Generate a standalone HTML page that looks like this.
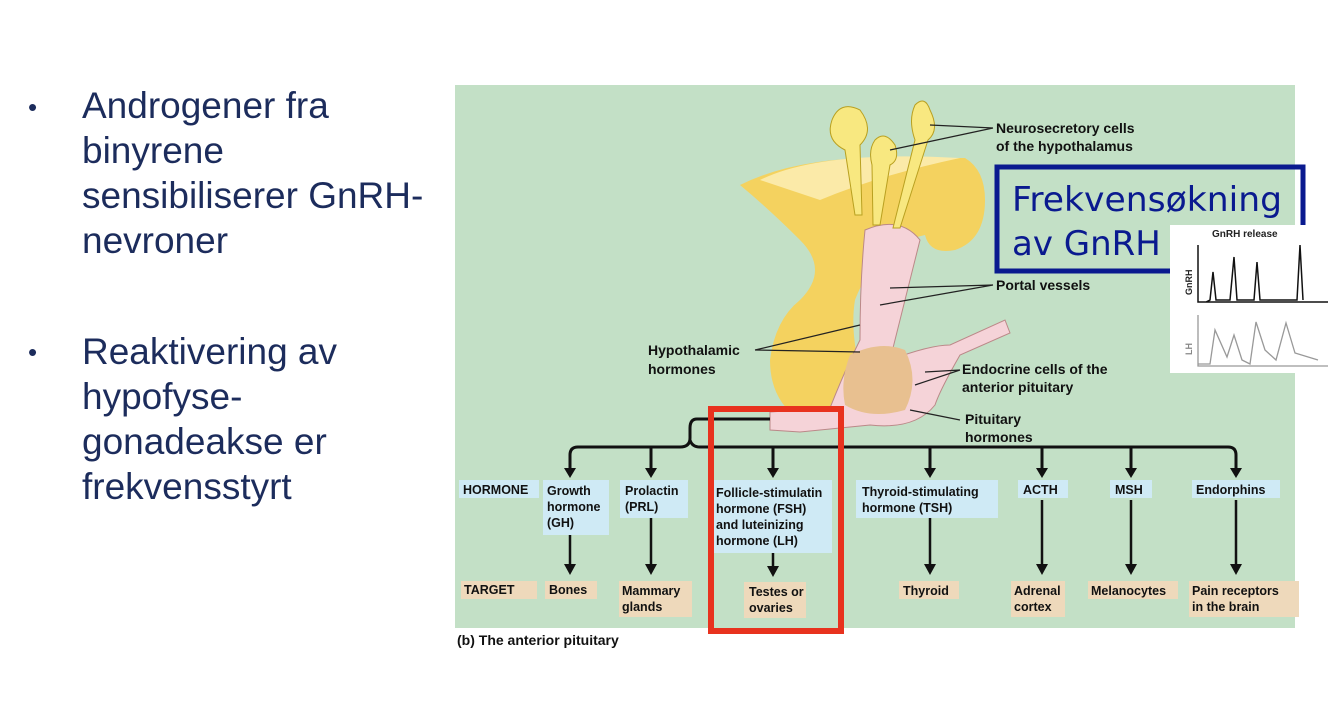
<!DOCTYPE html>
<html><head><meta charset="utf-8"><style>
body{margin:0;width:1334px;height:714px;background:#fff;overflow:hidden;position:relative;font-family:"Liberation Sans",sans-serif}
.b{position:absolute;left:82px;font-size:37px;line-height:45px;color:#1c2c5c}
.d{position:absolute;left:28px;font-size:26px;color:#1c2c5c}
</style></head><body>
<div class="d" style="top:92px">•</div>
<div class="b" style="top:83px">Androgener fra<br>binyrene<br>sensibiliserer GnRH-<br>nevroner</div>
<div class="d" style="top:337px">•</div>
<div class="b" style="top:329px">Reaktivering av<br>hypofyse-<br>gonadeakse er<br>frekvensstyrt</div>
<svg style="position:absolute;left:0;top:0" width="1334" height="714" font-family="Liberation Sans, sans-serif" font-weight="bold">
<rect x="455" y="85" width="840" height="543" fill="#c3e0c6"/>
<path d="M740 185 Q800 155 900 158 L965 158 Q985 170 985 200 Q985 240 955 250 Q930 255 925 235 L905 240 Q870 260 855 300 Q850 330 860 370 L890 420 Q860 430 800 420 Q770 400 770 360 Q775 320 800 300 Q830 270 800 240 Q770 210 740 185Z" fill="#f4d25f"/>
<path d="M760 180 Q820 150 960 158 Q880 175 820 200 Z" fill="#fbeaa8"/>
<path d="M865 230 Q900 215 920 240 L905 300 Q895 340 890 360 Q930 345 950 345 L1005 320 L1010 333 L960 355 Q940 390 935 405 Q915 430 870 425 L800 432 L770 430 L770 412 L830 408 Q845 370 860 340 Q860 280 865 230Z" fill="#f5d3d8" stroke="#b88" stroke-width="1"/>
<path d="M850 355 Q880 340 905 350 Q920 380 905 410 Q870 420 845 405 Q840 380 850 355Z" fill="#e8c090"/>
<g fill="#f8e880" stroke="#b9a020">
<path d="M832 120 Q840 100 860 110 Q875 130 860 145 L862 215 L855 215 L845 150 Q825 140 832 120Z"/>
<path d="M875 140 Q885 130 895 145 Q900 160 890 165 L880 225 L873 225 L872 165 Q868 150 875 140Z"/>
<path d="M915 105 Q925 95 930 110 Q940 130 928 140 L900 228 L893 228 L915 140 Q908 120 915 105Z"/>
</g>
<g stroke="#222" stroke-width="1.2" fill="none">
<path d="M993 128 L930 125 M993 128 L890 150"/>
<path d="M993 285 L890 288 M993 285 L880 305"/>
<path d="M755 350 L860 325 M755 350 L860 352"/>
<path d="M960 370 L925 372 M960 370 L915 385"/>
<path d="M960 420 L910 410"/>
</g>
<g font-size="14" fill="#111">
<text x="996" y="133">Neurosecretory cells</text><text x="996" y="151">of the hypothalamus</text>
<text x="996" y="290">Portal vessels</text>
<text x="648" y="355">Hypothalamic</text><text x="648" y="374">hormones</text>
<text x="962" y="374">Endocrine cells of the</text><text x="962" y="392">anterior pituitary</text>
<text x="965" y="424">Pituitary</text><text x="965" y="442">hormones</text>
</g>
<rect x="997" y="167" width="306" height="104" fill="none" stroke="#0a1a8f" stroke-width="5"/>
<g font-family="DejaVu Sans, sans-serif" font-weight="normal" font-size="34" fill="#0a1a8f">
<text x="1012" y="211" textLength="270" lengthAdjust="spacingAndGlyphs">Frekvensøkning</text><text x="1012" y="255">av GnRH</text></g>
<rect x="1170" y="225" width="156" height="148" fill="#fff"/>
<text x="1212" y="237" font-size="10" fill="#222">GnRH release</text>
<text x="1192" y="295" font-size="9" transform="rotate(-90 1192 295)" fill="#222">GnRH</text>
<text x="1192" y="355" font-size="9" transform="rotate(-90 1192 355)" fill="#888">LH</text>
<path d="M1198 245 V302 H1328 M1206 302 L1210 300 L1213 272 L1216 300 L1230 300 L1234 257 L1237 300 L1254 300 L1257 262 L1260 300 L1297 300 L1300 245 L1303 300" stroke="#111" stroke-width="1.5" fill="none"/>
<path d="M1198 315 V366 H1328 M1198 364 L1210 364 L1215 330 L1227 357 L1234 335 L1242 360 L1250 364 L1256 322 L1265 350 L1276 360 L1286 323 L1295 353 L1318 360" stroke="#999" stroke-width="1.3" fill="none"/>
<g stroke="#111" stroke-width="3" fill="none">
<path d="M770 419 H697 Q690 419 690 428 V438 Q690 447 680 447 H578 Q570 447 570 455 V470"/>
<path d="M690 440 Q692 447 700 447 H1228 Q1236 447 1236 455 V470"/>
<path d="M651 447 V470 M773 447 V470 M930 447 V470 M1042 447 V470 M1131 447 V470"/>
</g>
<g stroke="#111" stroke-width="2.5"><path d="M570 532 V565 M651 518 V565 M773 552 V568 M930 518 V565 M1042 500 V565 M1131 500 V565 M1236 500 V565"/></g>
<g fill="#111"><path d="M564 468 L570 478 L576 468Z M645 468 L651 478 L657 468Z M767 468 L773 478 L779 468Z M924 468 L930 478 L936 468Z M1036 468 L1042 478 L1048 468Z M1125 468 L1131 478 L1137 468Z M1230 468 L1236 478 L1242 468Z
M564 564 L570 575 L576 564Z M645 564 L651 575 L657 564Z M767 566 L773 577 L779 566Z M924 564 L930 575 L936 564Z M1036 564 L1042 575 L1048 564Z M1125 564 L1131 575 L1137 564Z M1230 564 L1236 575 L1242 564Z"/></g>
<g fill="#cfeaf5">
<rect x="459" y="480" width="80" height="18"/><rect x="543" y="480" width="66" height="55"/><rect x="620" y="480" width="68" height="38"/>
<rect x="712" y="480" width="120" height="73"/><rect x="856" y="480" width="142" height="38"/>
<rect x="1018" y="480" width="50" height="18"/><rect x="1110" y="480" width="42" height="18"/><rect x="1192" y="480" width="88" height="18"/>
</g>
<g fill="#eed9bb">
<rect x="461" y="581" width="76" height="18"/><rect x="545" y="581" width="52" height="18"/><rect x="619" y="581" width="73" height="36"/>
<rect x="744" y="582" width="62" height="36"/><rect x="899" y="581" width="60" height="18"/><rect x="1011" y="581" width="54" height="36"/>
<rect x="1088" y="581" width="90" height="18"/><rect x="1189" y="581" width="110" height="36"/>
</g>
<g font-size="12.5" fill="#111">
<text x="463" y="494">HORMONE</text>
<text x="547" y="495">Growth</text><text x="547" y="511">hormone</text><text x="547" y="527">(GH)</text>
<text x="625" y="495">Prolactin</text><text x="625" y="511">(PRL)</text>
<text x="716" y="497">Follicle-stimulatin</text><text x="716" y="513">hormone (FSH)</text><text x="716" y="529">and luteinizing</text><text x="716" y="545">hormone (LH)</text>
<text x="862" y="496">Thyroid-stimulating</text><text x="862" y="512">hormone (TSH)</text>
<text x="1023" y="494">ACTH</text><text x="1115" y="494">MSH</text><text x="1196" y="494">Endorphins</text>
<text x="464" y="594">TARGET</text><text x="549" y="594">Bones</text>
<text x="622" y="595">Mammary</text><text x="622" y="611">glands</text>
<text x="749" y="596">Testes or</text><text x="749" y="612">ovaries</text>
<text x="903" y="595">Thyroid</text>
<text x="1014" y="595">Adrenal</text><text x="1014" y="611">cortex</text>
<text x="1091" y="595">Melanocytes</text>
<text x="1192" y="595">Pain receptors</text><text x="1192" y="611">in the brain</text>
<text x="457" y="645" font-size="14">(b) The anterior pituitary</text>
</g>
<rect x="711" y="409" width="130" height="222" fill="none" stroke="#e8321e" stroke-width="6"/>
</svg>
</body></html>
